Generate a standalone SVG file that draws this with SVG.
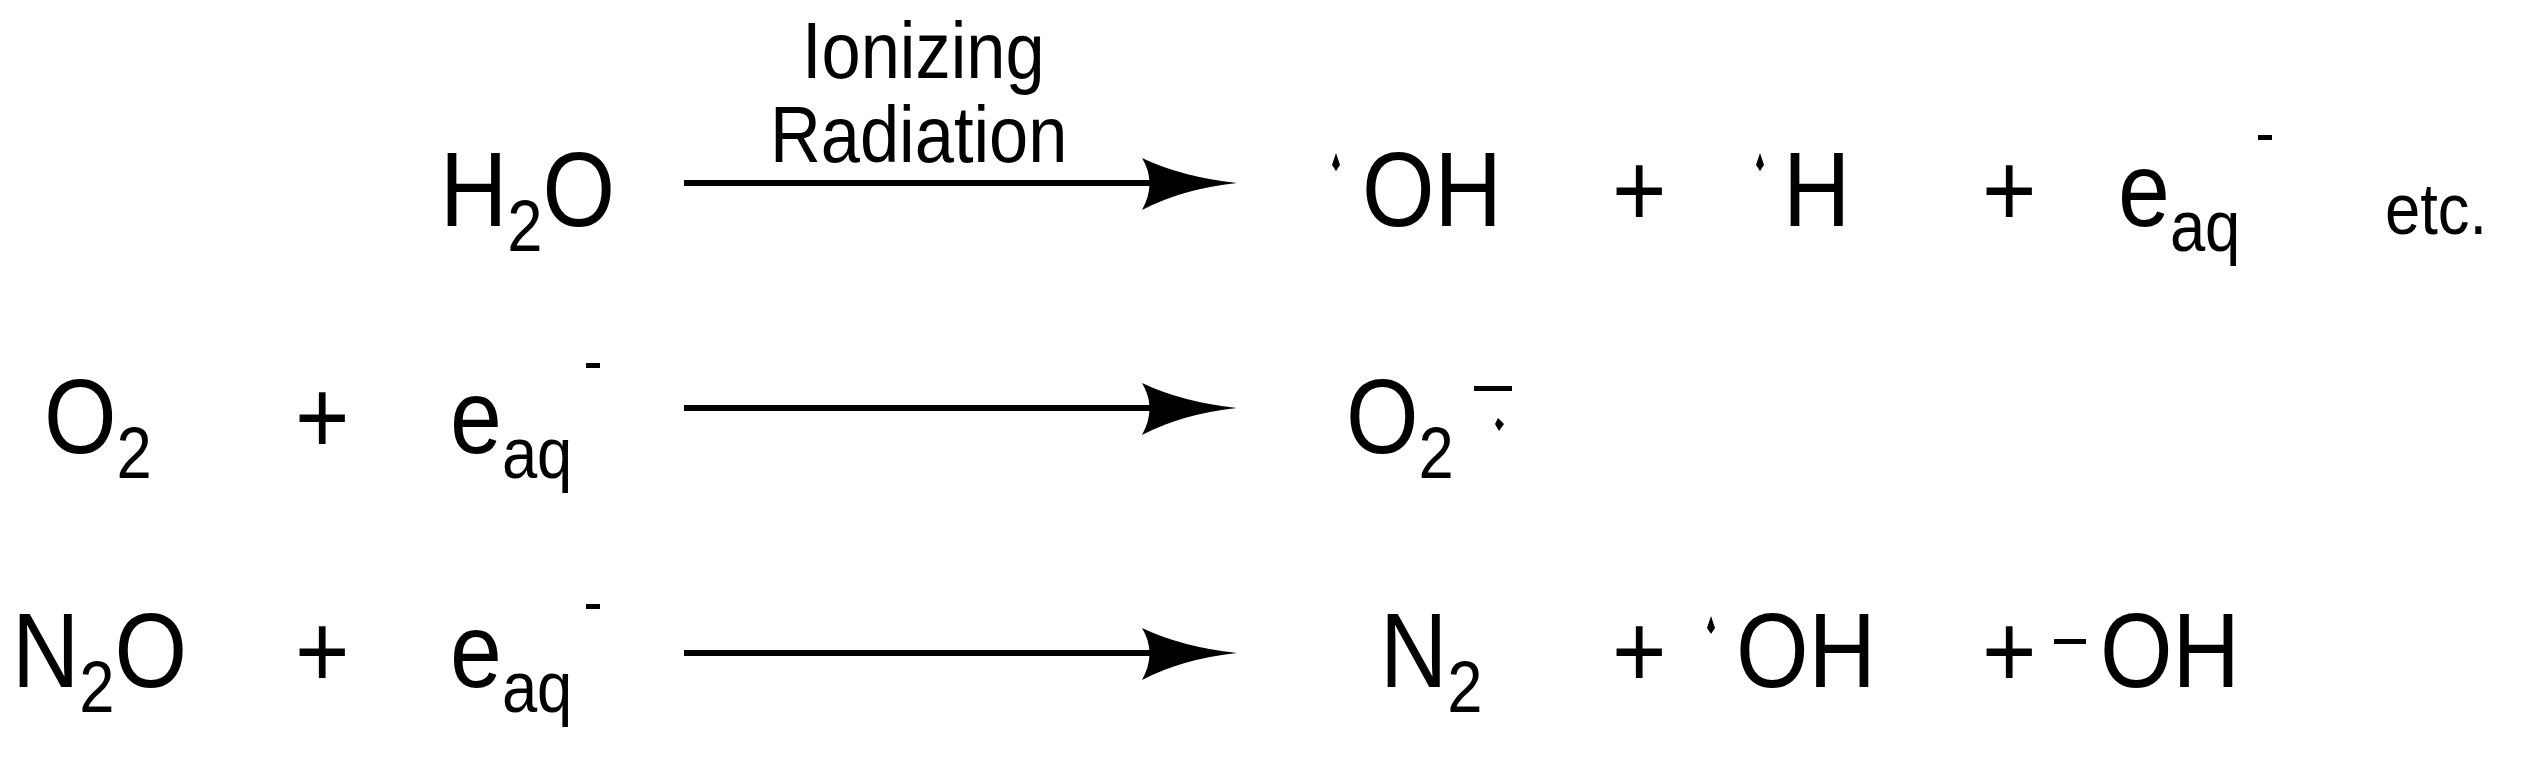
<svg xmlns="http://www.w3.org/2000/svg" width="2536" height="762" viewBox="0 0 2536 762">
<defs>
<style>
text{font-family:"Liberation Sans",Arial,sans-serif;fill:#000;transform-box:fill-box;transform-origin:left bottom;transform:scaleX(0.88)}
.t{font-size:106px}
.s{font-size:72px}
.l{font-size:80px}
.ln{stroke:#000;stroke-width:6;fill:none}
.hd{fill:#000}
.dot{fill:#000}
</style>
<path id="ah" class="hd" d="M-95,-25 Q-55,-6 0,0 Q-55,6 -95,27 Q-80,0 -95,-25 Z"/>
</defs>
<g id="connectors">
<line class="ln" x1="684" y1="183" x2="1200" y2="183"/><use href="#ah" x="1237" y="183"/>
<line class="ln" x1="684" y1="408" x2="1200" y2="408"/><use href="#ah" x="1237" y="408"/>
<line class="ln" x1="684" y1="653" x2="1200" y2="653"/><use href="#ah" x="1237" y="653"/>
</g>
<g id="label"><text class="l" x="802" y="78">Ionizing</text><text class="l" x="770" y="162">Radiation</text></g>
<g id="h2o"><text class="t" x="440" y="226">H<tspan class="s" dy="25">2</tspan><tspan dy="-25">O</tspan></text></g>
<g id="oh1"><path class="dot" d="M1336,153 l4,12 -4,6 -4,-6 z"/><text class="t" x="1362" y="226">OH</text></g>
<g id="p1"><text class="t" x="1612" y="226">+</text></g>
<g id="h1"><path class="dot" d="M1760,153 l4,12 -4,6 -4,-6 z"/><text class="t" x="1783" y="226">H</text></g>
<g id="p2"><text class="t" x="1982" y="226">+</text></g>
<g id="eaq1"><text class="t" x="2118" y="226">e<tspan class="s" dy="25">aq</tspan></text><rect x="2258" y="135" width="14" height="5"/></g>
<g id="etc"><text class="s" x="2385" y="234">etc.</text></g>
<g id="o2"><text class="t" x="44" y="453">O<tspan class="s" dy="25">2</tspan></text></g>
<g id="p3"><text class="t" x="295" y="453">+</text></g>
<g id="eaq2"><text class="t" x="450" y="453">e<tspan class="s" dy="25">aq</tspan></text><rect x="586" y="363" width="14" height="5"/></g>
<g id="o2r"><text class="t" x="1346" y="453">O<tspan class="s" dy="25">2</tspan></text><rect x="1474" y="386" width="38" height="5"/><path class="dot" d="M1498,418 l6,6 -5,7 -4,-7 z"/></g>
<g id="n2o"><text class="t" x="12" y="687">N<tspan class="s" dy="25">2</tspan><tspan dy="-25">O</tspan></text></g>
<g id="p4"><text class="t" x="295" y="687">+</text></g>
<g id="eaq3"><text class="t" x="450" y="687">e<tspan class="s" dy="25">aq</tspan></text><rect x="586" y="604" width="14" height="5"/></g>
<g id="n2"><text class="t" x="1380" y="687">N<tspan class="s" dy="25">2</tspan></text></g>
<g id="p5"><text class="t" x="1612" y="687">+</text></g>
<g id="oh2"><path class="dot" d="M1711,616 l4,12 -4,6 -4,-6 z"/><text class="t" x="1736" y="687">OH</text></g>
<g id="p6"><text class="t" x="1982" y="687">+</text></g>
<g id="oh3"><rect x="2054" y="639" width="32" height="5"/><text class="t" x="2100" y="687">OH</text></g>
</svg>
